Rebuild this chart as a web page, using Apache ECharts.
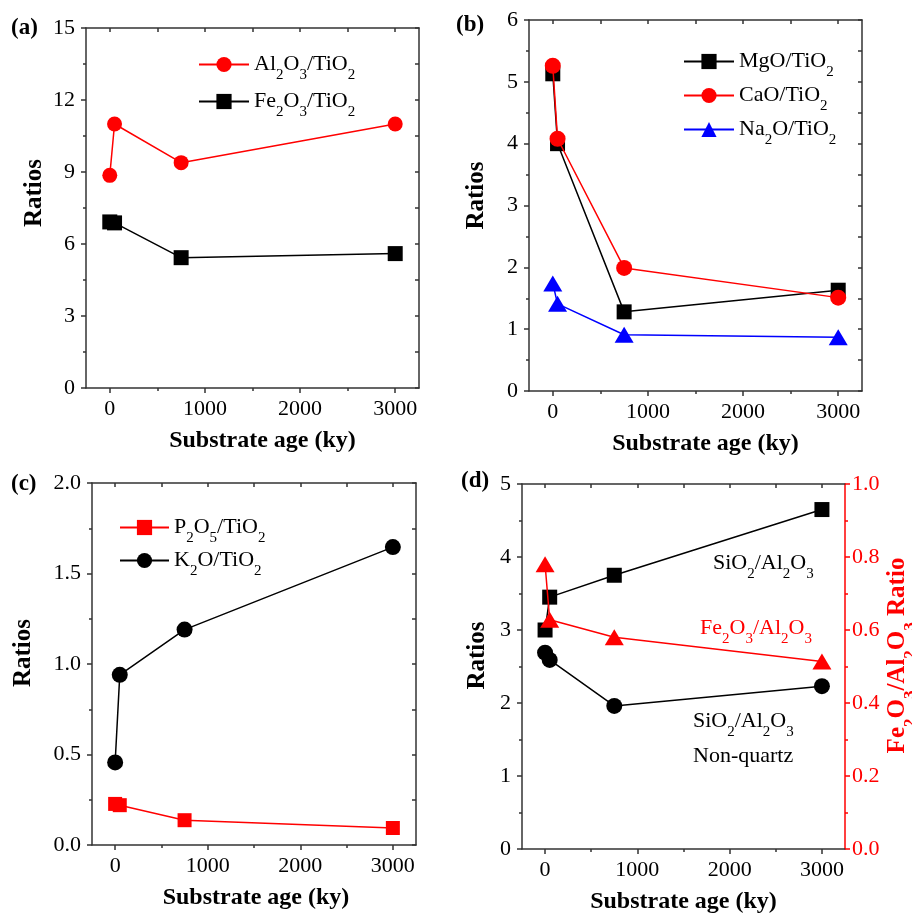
<!DOCTYPE html>
<html><head><meta charset="utf-8">
<script src="https://cdn.jsdelivr.net/npm/echarts@6/dist/echarts.min.js"></script>
<style>html,body{margin:0;padding:0;background:#fff}#c{width:912px;height:913px}</style>
</head><body><div id="c"></div>
<script>
// ---------- data ----------
const ages = [0, 50, 750, 3000];
const xMajorTicks = [0, 1000, 2000, 3000];
const xMinorTicks = [500, 1500, 2500];
const xAllTicks = [0, 500, 1000, 1500, 2000, 2500, 3000];

// (a)
const al2o3TiO2 = [8.86, 11.0, 9.39, 11.0];
const fe2o3TiO2 = [6.92, 6.88, 5.43, 5.60];
// (b)
const mgoTiO2 = [5.13, 4.00, 1.28, 1.63];
const caoTiO2 = [5.26, 4.08, 1.99, 1.51];
const na2oTiO2 = [1.74, 1.41, 0.91, 0.87];
// (c)
const p2o5TiO2 = [0.227, 0.220, 0.137, 0.094];
const k2oTiO2 = [0.456, 0.94, 1.19, 1.646];
// (d)
const sio2Al2o3 = [3.00, 3.45, 3.75, 4.65];
const sio2Al2o3NonQuartz = [2.69, 2.59, 1.96, 2.23];
const fe2o3Al2o3 = [0.78, 0.628, 0.58, 0.514];

const panelLabels = ['(a)', '(b)', '(c)', '(d)'];
const xTitle = 'Substrate age (ky)';
const yTitle = 'Ratios';
const yRightTitleD = 'Fe2O3/Al2O3 Ratio';
const annotD = ['SiO2/Al2O3', 'Fe2O3/Al2O3', 'SiO2/Al2O3', 'Non-quartz'];

// ---------- styling ----------
const FONT = '"Liberation Serif", "Times New Roman", serif';
const AX = '#333';
const RED = '#ff0000', BLUE = '#0000ff', BLACK = '#000000';

function richText(str) {
  return str.replace(/(\d+)|([^\d]+)/g, (m, d, t) => d ? '{s|' + d + '}' : '{m|' + t + '}');
}
function richStyles(size, color, bold) {
  return {
    m: {fontFamily: FONT, fontSize: size, color: color, fontWeight: bold ? 'bold' : 'normal', lineHeight: size + 1},
    s: {fontFamily: FONT, fontSize: Math.round(size * 0.68), color: color, fontWeight: bold ? 'bold' : 'normal', lineHeight: 10, padding: [Math.round(size * 1.0), 0, 0, 0]}
  };
}

const grids = [
  {left: 86, top: 28, width: 333, height: 360, outerBoundsMode: 'none', containLabel: false},
  {left: 529, top: 20, width: 333, height: 371, outerBoundsMode: 'none', containLabel: false},
  {left: 92, top: 483, width: 324, height: 362, outerBoundsMode: 'none', containLabel: false},
  {left: 522, top: 484, width: 323, height: 365, outerBoundsMode: 'none', containLabel: false}
];
// y-title shift (px up) and x-title shift (px right) per panel
const yCfg = [
  {max: 15, interval: 3, fmt: v => String(v), gap: 39, up: 15, right: 10},
  {max: 6, interval: 1, fmt: v => String(v), gap: 40, up: 10, right: 10},
  {max: 2, interval: 0.5, fmt: v => v.toFixed(1), gap: 56, up: 11, right: 2},
  {max: 5, interval: 1, fmt: v => String(v), gap: 32, up: 11, right: 0}
];

const xAxes = [], yAxes = [];
grids.forEach((g, i) => {
  const c = yCfg[i];
  xAxes.push({
    gridIndex: i, type: 'value', min: -250, max: 3250, position: 'bottom',
    axisLine: {show: true, onZero: false, lineStyle: {color: AX, width: 1.5}},
    axisTick: {show: true, inside: false, length: 5, customValues: xMajorTicks, lineStyle: {color: AX, width: 1.5}},
    axisLabel: {show: true, customValues: xMajorTicks, margin: 10, color: BLACK, fontFamily: FONT, fontSize: 22, formatter: v => String(v)},
    splitLine: {show: false},
    name: xTitle, nameLocation: 'middle', nameGap: 41, nameMoveOverlap: false,
    nameTextStyle: {fontFamily: FONT, fontSize: 24, fontWeight: 'bold', color: BLACK, padding: [0, 0, 0, c.right * 2]}
  });
  xAxes.push({
    gridIndex: i, type: 'value', min: -250, max: 3250, position: 'bottom',
    axisLine: {show: false, onZero: false},
    axisTick: {show: true, inside: false, length: 3, customValues: xMinorTicks, lineStyle: {color: AX, width: 1.5}},
    axisLabel: {show: false}, splitLine: {show: false}
  });
  xAxes.push({
    gridIndex: i, type: 'value', min: -250, max: 3250, position: 'top',
    axisLine: {show: true, onZero: false, lineStyle: {color: AX, width: 1.5}},
    axisTick: {show: true, inside: true, length: 4, customValues: xAllTicks, lineStyle: {color: AX, width: 1.5}},
    axisLabel: {show: false}, splitLine: {show: false}
  });
  yAxes.push({
    gridIndex: i, type: 'value', min: 0, max: c.max, interval: c.interval, position: 'left',
    axisLine: {show: true, onZero: false, lineStyle: {color: AX, width: 1.5}},
    axisTick: {show: true, inside: false, length: 5, lineStyle: {color: AX, width: 1.5}},
    minorTick: {show: true, splitNumber: 2, length: 3, lineStyle: {color: AX, width: 1.5}},
    axisLabel: {margin: 11, color: BLACK, fontFamily: FONT, fontSize: 22, formatter: c.fmt},
    splitLine: {show: false}, minorSplitLine: {show: false},
    name: yTitle, nameLocation: 'middle', nameGap: c.gap, nameMoveOverlap: false,
    nameTextStyle: {fontFamily: FONT, fontSize: 25, fontWeight: 'bold', color: BLACK, padding: [0, 0, 0, c.up * 2]}
  });
  if (i < 3) {
    yAxes.push({
      gridIndex: i, type: 'value', min: 0, max: c.max, interval: c.interval / 2, position: 'right',
      axisLine: {show: true, onZero: false, lineStyle: {color: AX, width: 1.5}},
      axisTick: {show: true, inside: true, length: 4, lineStyle: {color: AX, width: 1.5}},
      axisLabel: {show: false}, splitLine: {show: false}
    });
  } else {
    yAxes.push({
      gridIndex: i, type: 'value', min: 0, max: 1, interval: 0.2, position: 'right',
      axisLine: {show: true, onZero: false, lineStyle: {color: RED, width: 1.5}},
      axisTick: {show: true, inside: false, length: 5, lineStyle: {color: RED, width: 1.5}},
      minorTick: {show: true, splitNumber: 2, length: 3, lineStyle: {color: RED, width: 1.5}},
      axisLabel: {margin: 7, color: RED, fontFamily: FONT, fontSize: 22, formatter: v => v.toFixed(1)},
      splitLine: {show: false}, minorSplitLine: {show: false},
      name: richText(yRightTitleD), nameLocation: 'middle', nameGap: 40, nameMoveOverlap: false,
      nameTextStyle: {fontFamily: FONT, fontSize: 25, fontWeight: 'bold', color: RED, rich: richStyles(25, RED, true), padding: [0, 0, 0, 22]}
    });
  }
});

function ser(name, gi, yAxisRight, vals, symbol, size, color, z) {
  return {
    type: 'line', name: name, xAxisIndex: gi * 3, yAxisIndex: gi * 2 + (yAxisRight ? 1 : 0),
    data: ages.map((a, k) => [a, vals[k]]),
    symbol: symbol, symbolSize: size, showAllSymbol: true,
    lineStyle: {color: color, width: 1.5}, itemStyle: {color: color, opacity: 1},
    color: color, z: z || 2, animation: false, silent: true
  };
}

const series = [
  ser('Fe2O3/TiO2', 0, false, fe2o3TiO2, 'rect', 15, BLACK, 2),
  ser('Al2O3/TiO2', 0, false, al2o3TiO2, 'circle', 15, RED, 3),
  ser('MgO/TiO2', 1, false, mgoTiO2, 'rect', 15, BLACK, 2),
  ser('CaO/TiO2', 1, false, caoTiO2, 'circle', 16, RED, 3),
  ser('Na2O/TiO2', 1, false, na2oTiO2, 'triangle', [19, 16], BLUE, 4),
  ser('P2O5/TiO2', 2, false, p2o5TiO2, 'rect', 14, RED, 2),
  ser('K2O/TiO2', 2, false, k2oTiO2, 'circle', 16, BLACK, 3),
  ser('SiO2/Al2O3', 3, false, sio2Al2o3, 'rect', 15, BLACK, 2),
  ser('SiO2/Al2O3 Non-quartz', 3, false, sio2Al2o3NonQuartz, 'circle', 16, BLACK, 3),
  ser('Fe2O3/Al2O3', 3, true, fe2o3Al2o3, 'triangle', [19, 16], RED, 4)
];

function legend(names, left, top, gap, itemW) {
  return {
    data: names, orient: 'vertical', left: left, top: top, itemGap: gap,
    itemWidth: itemW, itemHeight: 19, padding: 0, selectedMode: false,
    formatter: n => richText(n),
    textStyle: {fontFamily: FONT, fontSize: 22, color: BLACK, rich: richStyles(22, BLACK, false)}
  };
}

const legends = [
  legend(['Al2O3/TiO2', 'Fe2O3/TiO2'], 198, 46, 0, 50),
  legend(['MgO/TiO2', 'CaO/TiO2', 'Na2O/TiO2'], 683, 43, -3, 50),
  legend(['P2O5/TiO2', 'K2O/TiO2'], 119, 509, -4, 49)
];

const graphics = [];
const labelPos = [[11, 30], [456, 27], [11, 486], [461, 483]];
panelLabels.forEach((t, i) => {
  graphics.push({type: 'text', left: labelPos[i][0], top: labelPos[i][1] - 13, z: 10,
    style: {text: t, fontFamily: FONT, fontSize: 23, fontWeight: 'bold', fill: BLACK}});
});
function annot(text, x, y, color) {
  graphics.push({type: 'text', x: x, y: y, z: 10,
    style: {text: richText(text), rich: richStyles(22, color, false), fontFamily: FONT, fontSize: 22,
      fill: color, align: 'left', verticalAlign: 'middle'}});
}
annot(annotD[0], 713, 563, BLACK);
annot(annotD[1], 700, 628, RED);
annot(annotD[2], 693, 721, BLACK);
annot(annotD[3], 693, 756, BLACK);

const chart = echarts.init(document.getElementById('c'), null, {renderer: 'canvas'});
chart.setOption({
  animation: false,
  backgroundColor: '#ffffff',
  grid: grids,
  xAxis: xAxes,
  yAxis: yAxes,
  legend: legends,
  series: series,
  graphic: graphics
});
</script>
</body></html>
